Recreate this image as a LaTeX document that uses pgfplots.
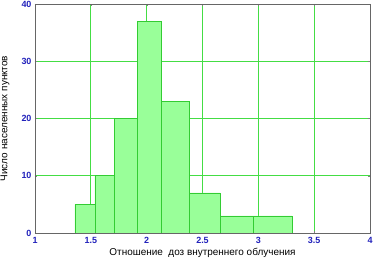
\documentclass[border=0pt]{standalone}
\usepackage{pgfplots}
\pgfplotsset{compat=1.18}
\usepackage{fontspec}
\setmainfont{Liberation Sans}
\definecolor{barfill}{HTML}{99FF99}
\definecolor{baredge}{HTML}{33CC33}
\definecolor{gridg}{HTML}{44DD44}
\definecolor{tickblue}{HTML}{2222BB}
\begin{document}
\begin{tikzpicture}
\begin{axis}[
  scale only axis,
  width=335bp, height=229bp,
  xmin=1, xmax=4, ymin=0, ymax=40,
  xtick={1,1.5,2,2.5,3,3.5,4},
  xticklabels={1,1.5,2,2.5,3,3.5,4},
  ytick={0,10,20,30,40},
  grid=major,
  major grid style={gridg, line width=0.7pt},
  axis line style={gray!80!black},
  major tick length=2pt,
  tick style={gray},
  tick label style={font=\fontsize{9}{10}\selectfont\bfseries, text=tickblue},
  /pgf/number format/assume math mode=true,
  xlabel={Отношение\ \ доз внутреннего облучения},
  ylabel={Число населенных пунктов},
  label style={font=\fontsize{8.5}{10}\selectfont, text=black!70},
  every axis x label/.style={at={(axis description cs:0.5,0)}, anchor=center, yshift=-20bp},
  every axis y label/.style={at={([xshift=-30bp]axis description cs:0,0.5)}, rotate=90, anchor=center},
  xticklabel style={yshift=-1pt},
]
\addplot[ybar interval, fill=barfill, draw=baredge, line width=0.6pt] coordinates {
(1.358,5) (1.537,10) (1.71,20) (1.916,37) (2.134,23) (2.379,7) (2.656,3) (2.954,3) (3.303,3)
};
\end{axis}
\pgfresetboundingbox
\path (current axis.south west) ++(-35bp,-25bp) coordinate (a);
\path (current axis.north east) ++(5bp,4bp) coordinate (b);
\path[use as bounding box] (a) rectangle (b);
\end{tikzpicture}
\end{document}
